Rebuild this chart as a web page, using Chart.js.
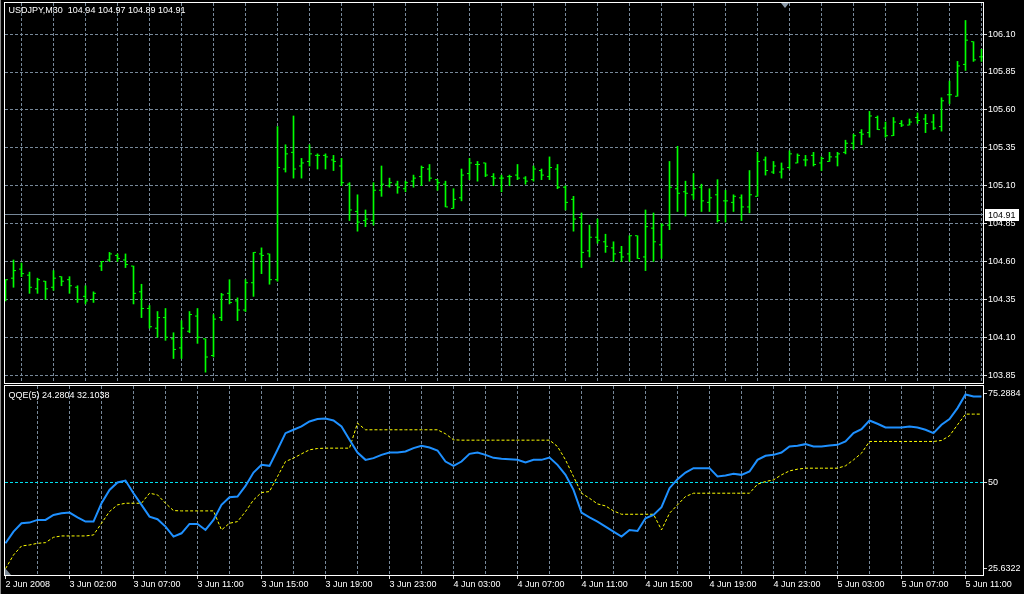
<!DOCTYPE html>
<html>
<head>
<meta charset="utf-8">
<script src="https://cdn.jsdelivr.net/npm/chart.js@4.4.1/dist/chart.umd.min.js"></script>
<style>
  html, body { margin: 0; padding: 0; background: #000; }
  #wrap { position: relative; width: 1024px; height: 594px; overflow: hidden; background: #000; }
  #precos { position: absolute; left: 0; top: 0; }
  #qqe { position: absolute; left: 0; top: 385px; }
  .borda { position: absolute; left: 0; top: 0; width: 1px; height: 594px; background: #8a8a8a; }
  .shift { position: absolute; left: 781px; top: 3px; width: 0; height: 0;
    border-left: 4px solid transparent; border-right: 4px solid transparent; border-top: 5px solid #8e9cab; }
  .canto { position: absolute; left: 5px; top: 568px; width: 0; height: 0;
    border-top: 7px solid transparent; border-left: 6px solid #7d8a97; }
</style>
</head>
<body>
<div id="wrap">
  <canvas id="precos" width="1024" height="385"></canvas>
  <canvas id="qqe" width="1024" height="209"></canvas>
  <div class="borda"></div>
  <div class="shift"></div>
  <div class="canto"></div>
</div>
<script>
// Barras OHLC (USDJPY M30)
const opens = [
  104.34,104.49,104.55,104.51,104.42,104.47,104.43,104.50,104.48,104.43,
  104.37,104.35,104.57,104.61,104.64,104.61,104.57,104.40,104.29,104.16,
  104.23,104.09,104.03,104.14,104.24,104.09,103.98,104.23,104.39,104.34,
  104.28,104.46,104.65,104.65,104.48,105.21,105.32,105.23,105.26,105.30,
  105.30,105.27,105.23,105.11,104.93,104.87,104.87,105.07,105.10,105.11,
  105.08,105.13,105.16,105.21,105.14,105.11,104.95,105.02,105.18,105.24,
  105.25,105.16,105.15,105.16,105.17,105.15,105.14,105.20,105.16,105.21,
  105.09,105.01,104.89,104.67,104.76,104.73,104.69,104.66,104.65,104.77,
  104.63,104.82,104.71,104.84,105.08,105.06,105.04,105.09,104.99,105.04,
  105.00,104.99,105.02,104.96,105.03,105.27,105.19,105.19,105.22,105.25,
  105.27,105.30,105.25,105.26,105.29,105.32,105.38,105.45,105.45,105.55,
  105.48,105.43,105.51,105.50,105.55,105.54,105.52,105.49,105.70,105.69,
  105.90,106.05,105.95
];
const highs = [
  104.48,104.61,104.59,104.53,104.49,104.47,104.54,104.50,104.50,104.44,
  104.44,104.40,104.60,104.66,104.65,104.65,104.57,104.45,104.31,104.27,
  104.29,104.13,104.21,104.27,104.29,104.09,104.25,104.39,104.48,104.36,
  104.48,104.66,104.69,104.65,105.49,105.37,105.56,105.28,105.37,105.31,
  105.31,105.30,105.28,105.12,105.04,104.94,105.12,105.23,105.15,105.13,
  105.13,105.17,105.23,105.24,105.14,105.13,105.08,105.21,105.28,105.26,
  105.25,105.18,105.17,105.17,105.24,105.16,105.23,105.21,105.29,105.24,
  105.10,105.03,104.92,104.84,104.88,104.78,104.73,104.70,104.77,104.77,
  104.94,104.92,104.85,105.26,105.36,105.13,105.18,105.11,105.08,105.14,
  105.07,105.04,105.04,105.20,105.32,105.29,105.26,105.25,105.33,105.31,
  105.30,105.32,105.29,105.32,105.32,105.40,105.44,105.47,105.59,105.56,
  105.52,105.55,105.53,105.54,105.58,105.57,105.57,105.68,105.79,105.92,
  106.19,106.05,106.00
];
const lows = [
  104.34,104.43,104.50,104.39,104.39,104.35,104.41,104.44,104.39,104.33,
  104.32,104.33,104.54,104.60,104.60,104.56,104.32,104.23,104.16,104.10,
  104.08,103.96,103.96,104.13,104.06,103.87,103.97,104.21,104.32,104.21,
  104.27,104.37,104.52,104.45,104.47,105.19,105.15,105.15,105.23,105.21,
  105.21,105.20,105.10,104.87,104.80,104.83,104.84,105.03,105.09,105.05,
  105.06,105.09,105.10,105.13,105.07,104.96,104.95,105.00,105.14,105.13,
  105.16,105.10,105.06,105.10,105.14,105.11,105.13,105.14,105.14,105.08,
  104.94,104.80,104.56,104.63,104.72,104.66,104.60,104.60,104.60,104.62,
  104.54,104.60,104.62,104.81,104.93,104.90,105.01,104.93,104.93,104.86,
  104.86,104.93,104.87,104.92,105.03,105.17,105.18,105.15,105.21,105.25,
  105.23,105.23,105.20,105.26,105.23,105.31,105.34,105.37,105.42,105.47,
  105.42,105.43,105.49,105.50,105.51,105.45,105.47,105.46,105.64,105.69,
  105.86,105.92,105.92
];
const closes = [
  104.48,104.54,104.52,104.43,104.48,104.42,104.49,104.47,104.44,104.35,
  104.34,104.39,104.60,104.65,104.62,104.58,104.39,104.29,104.17,104.23,
  104.10,104.02,104.16,104.25,104.10,103.97,104.22,104.38,104.33,104.28,
  104.46,104.66,104.64,104.48,105.22,105.31,105.21,105.25,105.31,105.30,
  105.29,105.26,105.12,104.94,104.86,104.88,105.07,105.11,105.12,105.09,
  105.12,105.15,105.22,105.15,105.12,104.96,105.01,105.17,105.25,105.24,
  105.17,105.15,105.15,105.16,105.15,105.13,105.21,105.17,105.22,105.09,
  104.99,104.88,104.66,104.76,104.74,104.70,104.65,104.63,104.77,104.62,
  104.83,104.73,104.84,105.09,105.05,105.05,105.08,105.00,105.02,104.87,
  105.00,105.03,104.96,105.04,105.26,105.20,105.23,105.21,105.31,105.30,
  105.27,105.24,105.28,105.29,105.31,105.38,105.43,105.44,105.56,105.47,
  105.43,105.52,105.50,105.52,105.53,105.51,105.48,105.66,105.70,105.89,
  106.06,105.93,105.95
];

// QQE(5): linha rápida (azul) e linha lenta (amarela)
const qqeFast = [
  32.81,36.12,38.48,38.66,39.42,39.42,40.84,41.31,41.50,40.17,
  38.94,38.94,44.14,47.91,49.99,50.55,46.97,43.67,40.36,39.61,
  37.53,34.70,35.64,38.29,38.29,36.59,39.42,43.67,45.84,46.03,
  49.04,52.82,54.99,54.71,59.24,63.95,64.90,65.84,67.26,67.92,
  68.11,67.54,65.84,62.07,58.48,56.40,56.88,57.82,58.48,58.48,
  58.76,59.71,60.37,59.90,59.05,55.93,54.71,55.93,58.10,58.48,
  57.82,56.97,56.69,56.59,56.40,55.65,56.40,56.40,57.06,54.99,
  52.16,47.91,41.50,40.17,38.94,37.53,36.12,34.70,36.59,36.30,
  39.89,40.84,43.00,48.39,50.93,52.82,54.05,54.05,54.05,51.69,
  51.97,52.44,52.16,53.10,56.40,57.54,57.82,58.48,60.18,60.37,
  60.84,60.18,60.18,60.46,60.65,61.60,63.95,65.09,67.54,66.60,
  65.56,65.56,65.56,65.84,65.56,64.90,63.95,66.31,67.92,71.03,
  74.90,74.30,74.30
];
const qqeSlow = [
  25.63,29.51,32.06,32.34,32.81,33.00,34.51,34.89,34.89,34.89,
  34.89,35.17,38.48,41.78,43.67,44.14,44.14,44.14,46.97,46.50,
  44.14,42.06,41.97,41.97,41.97,41.97,41.97,36.59,38.48,38.94,
  41.78,45.08,47.16,47.44,51.69,55.93,56.88,58.10,59.24,59.61,
  59.71,59.71,59.71,59.71,66.78,64.90,64.90,64.90,64.90,64.90,
  64.90,64.90,64.90,64.90,64.90,63.77,62.07,61.97,61.97,61.97,
  61.97,61.97,61.97,61.97,61.97,61.97,61.97,61.97,61.97,60.18,
  56.40,51.69,46.97,45.55,43.95,43.38,41.97,41.02,41.02,41.02,
  41.02,41.02,36.59,41.31,43.67,46.03,46.97,46.97,46.97,46.97,
  46.97,46.97,46.97,46.97,49.52,50.27,50.74,52.16,53.29,53.76,
  54.05,54.05,54.05,54.05,54.05,54.71,56.40,58.29,61.60,61.60,
  61.60,61.60,61.60,61.60,61.60,61.60,61.60,61.88,63.20,66.31,
  69.33,69.33,69.33
];

// Eixos
const timeLabels = ['2 Jun 2008','3 Jun 02:00','3 Jun 07:00','3 Jun 11:00','3 Jun 15:00',
  '3 Jun 19:00','3 Jun 23:00','4 Jun 03:00','4 Jun 07:00','4 Jun 11:00','4 Jun 15:00',
  '4 Jun 19:00','4 Jun 23:00','5 Jun 03:00','5 Jun 07:00','5 Jun 11:00'];
const priceTicks = [103.85,104.10,104.35,104.60,104.85,105.10,105.35,105.60,105.85,106.10];
const qqeTicks = [25.6322, 50, 75.2884];
const qqeTickLabels = ['25.6322', '50', '75.2884'];
const lastPrice = 104.91;
const qqeLevel = 50;
const headerText = 'USDJPY,M30  104.94 104.97 104.89 104.91';
const qqeText = 'QQE(5) 24.2804 32.1038';

const fonte = 'Liberation Sans';
const verde = '#00ff00';
const grade = '#778899';
const xMin = -0.0625, xMax = 122.1875;
const gridBars = [];
for (let b = 4; b <= 120; b += 4) gridBars.push(b);

// Moldura branca em volta da área do gráfico
const moldura = {
  id: 'moldura',
  afterDraw(chart) {
    const { ctx, chartArea: a } = chart;
    ctx.save();
    ctx.strokeStyle = '#ffffff';
    ctx.lineWidth = 1;
    ctx.strokeRect(a.left - 0.5, a.top - 0.5, a.right - a.left + 1, a.bottom - a.top + 1);
    ctx.restore();
  }
};

function textoTopo(texto, dy) {
  return {
    id: 'texto',
    afterDraw(chart) {
      const { ctx, chartArea: a } = chart;
      ctx.save();
      ctx.fillStyle = '#ffffff';
      ctx.font = '9px "' + fonte + '"';
      ctx.textBaseline = 'middle';
      ctx.fillText(texto, a.left + 3.5, a.top + dy);
      ctx.restore();
    }
  };
}

// Etiqueta do preço atual no eixo
const etiquetaPreco = {
  id: 'etiquetaPreco',
  afterDraw(chart) {
    const { ctx, chartArea: a } = chart;
    const y = Math.round(chart.scales.y.getPixelForValue(lastPrice));
    ctx.save();
    ctx.fillStyle = '#ffffff';
    ctx.fillRect(a.right + 2, y - 6, 34, 12);
    ctx.fillStyle = '#000000';
    ctx.font = '9px "' + fonte + '"';
    ctx.textBaseline = 'middle';
    ctx.fillText(lastPrice.toFixed(2), a.right + 5, y + 0.5);
    ctx.restore();
  }
};

// sem folga extra para os rótulos nas pontas dos eixos
function semFolga(largura, altura) {
  return (s) => {
    if (largura !== null) s.width = largura;
    if (altura !== null) s.height = altura;
    s.paddingTop = 0; s.paddingBottom = 0;
    s.paddingLeft = 0; s.paddingRight = 0;
  };
}

const ticksY = { color: '#ffffff', font: { family: fonte, size: 9 }, padding: 1 };

new Chart(document.getElementById('precos'), {
  type: 'line',
  data: {
    datasets: [
      {
        type: 'bar',
        data: highs.map((h, i) => ({ x: i, y: [lows[i], h] })),
        backgroundColor: verde,
        borderWidth: 0,
        barThickness: 1
      },
      {
        type: 'scatter',
        data: opens.map((o, i) => ({ x: i - 0.1875, y: o })),
        pointStyle: 'line', radius: 1, hoverRadius: 1,
        borderColor: verde, borderWidth: 1
      },
      {
        type: 'scatter',
        data: closes.map((c, i) => ({ x: i + 0.1875, y: c })),
        pointStyle: 'line', radius: 1, hoverRadius: 1,
        borderColor: verde, borderWidth: 1
      },
      {
        data: [{ x: xMin, y: lastPrice }, { x: xMax, y: lastPrice }],
        borderColor: grade, borderWidth: 1, pointRadius: 0
      }
    ]
  },
  options: {
    responsive: false,
    animation: false,
    events: [],
    layout: { padding: { left: 5, top: 3, right: 0, bottom: 2 } },
    plugins: { legend: { display: false }, tooltip: { enabled: false } },
    scales: {
      x: {
        type: 'linear', min: xMin, max: xMax, offset: false,
        ticks: { display: false },
        grid: { color: grade, drawTicks: false },
        border: { display: false, dash: [3, 2] },
        afterBuildTicks: (s) => { s.ticks = gridBars.map((v) => ({ value: v })); },
        afterFit: semFolga(null, 0)
      },
      y: {
        position: 'right',
        min: 106.10 - (383 - 34.1) / 151.6,
        max: 106.10 + (34.1 - 3) / 151.6,
        ticks: Object.assign({ callback: (v) => Number(v).toFixed(2) }, ticksY),
        grid: { color: grade, tickColor: '#d8d8d8', tickLength: 4 },
        border: { display: false, dash: [3, 2] },
        afterBuildTicks: (s) => { s.ticks = priceTicks.map((v) => ({ value: v })); },
        afterFit: semFolga(41, null)
      }
    }
  },
  plugins: [moldura, textoTopo(headerText, 7.5), etiquetaPreco]
});

new Chart(document.getElementById('qqe'), {
  type: 'line',
  data: {
    datasets: [
      {
        data: qqeFast.map((v, i) => ({ x: i, y: v })),
        borderColor: '#1e90ff', borderWidth: 2, pointRadius: 0, tension: 0
      },
      {
        data: qqeSlow.map((v, i) => ({ x: i, y: v })),
        borderColor: '#ffff00', borderWidth: 1, borderDash: [3, 2], pointRadius: 0, tension: 0
      },
      {
        data: [{ x: xMin, y: qqeLevel }, { x: xMax, y: qqeLevel }],
        borderColor: '#00e0f0', borderWidth: 1, borderDash: [3, 2], pointRadius: 0
      }
    ]
  },
  options: {
    responsive: false,
    animation: false,
    events: [],
    layout: { padding: { left: 5, top: 1, right: 0, bottom: 0 } },
    plugins: { legend: { display: false }, tooltip: { enabled: false } },
    scales: {
      x: {
        type: 'linear', min: xMin, max: xMax, offset: false,
        ticks: {
          color: '#ffffff', font: { family: fonte, size: 9 },
          autoSkip: false, maxRotation: 0, align: 'start', padding: 0,
          callback: (v) => (v % 8 === 0 ? timeLabels[v / 8] : '')
        },
        grid: {
          color: (c) => (c.tick && c.tick.value === 0 ? 'rgba(0,0,0,0)' : grade),
          tickColor: (c) => (c.tick && c.tick.value % 8 === 0 ? '#d8d8d8' : 'rgba(0,0,0,0)'),
          tickLength: 4
        },
        border: { display: false, dash: [3, 2] },
        afterBuildTicks: (s) => { s.ticks = [0].concat(gridBars).map((v) => ({ value: v })); },
        afterFit: semFolga(null, 19)
      },
      y: {
        position: 'right',
        min: 23.85, max: 77.28,
        ticks: Object.assign({ callback: (v, i) => qqeTickLabels[i] }, ticksY),
        grid: { drawOnChartArea: false, tickColor: '#d8d8d8', tickLength: 4 },
        border: { display: false },
        afterBuildTicks: (s) => { s.ticks = qqeTicks.map((v) => ({ value: v })); },
        afterFit: semFolga(41, null)
      }
    }
  },
  plugins: [moldura, textoTopo(qqeText, 9.3)]
});
</script>
</body>
</html>
